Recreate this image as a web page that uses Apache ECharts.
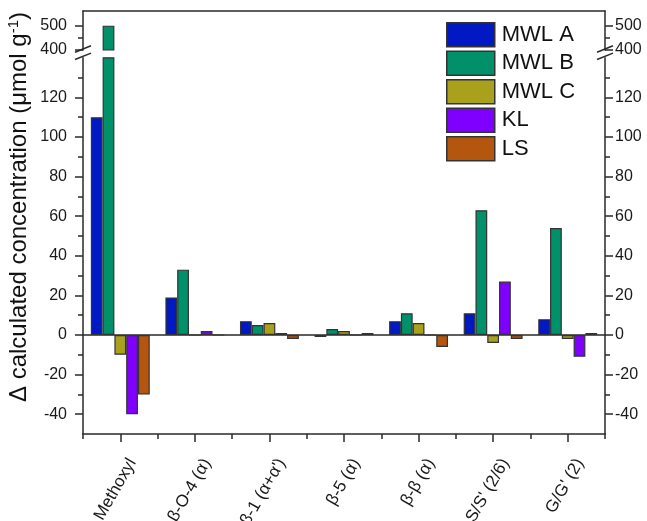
<!DOCTYPE html>
<html>
<head>
<meta charset="utf-8">
<script src="https://cdn.jsdelivr.net/npm/echarts@6/dist/echarts.min.js"></script>
<style>
html,body{margin:0;padding:0;background:#fff;}
#c{width:647px;height:521px;}
</style>
</head>
<body>
<div id="c"></div>
<script>
// ---- data ----
const categories = ['Methoxyl', 'β-O-4 (α)', "β-1 (α+α')", 'β-5 (α)', 'β-β (α)', "S/S' (2/6)", "G/G' (2)"];
const seriesNames = ['MWL A', 'MWL B', 'MWL C', 'KL', 'LS'];
const mwlA = [110, 19, 7, -1, 7, 11, 8];
const mwlB = [500, 33, 5, 3, 11, 63, 54];
const mwlC = [-10, 0, 6, 2, 6, -4, -2];
const kl   = [-40, 2, 1, 0, 0, 27, -11];
const ls   = [-30, 0, -2, 1, -6, -2, 1];
const lowerTicks = [-40, -20, 0, 20, 40, 60, 80, 100, 120];
const upperTicks = [400, 500];
const seriesValues = [mwlA, mwlB, mwlC, kl, ls];

// ---- styles / layout ----
const colors = ['#0019c3', '#00906a', '#a9a01b', '#8000ff', '#b4560d'];
const FONT = '"Liberation Sans", Arial, sans-serif';
const AX = '#2a2a2a';
const H = 521;
const LEFT = 83, RIGHT = 42;
const lowBottomPx = 434, lowTopPx = 57.8;   // lower segment: -50 .. 140
const lowMin = -50, lowMax = 140;
const k = (lowBottomPx - lowTopPx) / (lowMax - lowMin);
const pyLow = v => lowBottomPx - (v - lowMin) * k;
const upTopPx = 11, upBottomPx = 50;        // upper segment: 400 .. 560
const upMin = 400, upMax = 560;
const ku = (upBottomPx - upTopPx) / (upMax - upMin);
const pyUp = v => upBottomPx - (v - upMin) * ku;

const g = (top, bottomPx) => ({left: LEFT, right: RIGHT, top: top, bottom: H - bottomPx,
                               containLabel: false, outerBoundsMode: 'none'});
const grids = [
  g(lowTopPx, lowBottomPx),        // 0 lower plot
  g(upTopPx, upBottomPx),          // 1 upper plot
  g(pyLow(120), pyLow(-40)),       // 2 lower major ticks
  g(pyLow(130), pyLow(-40)),       // 3 lower minor ticks
  g(pyUp(500), pyUp(400))          // 4 upper ticks
];

const lbl = {fontSize: 16, fontFamily: FONT, color: '#1a1a1a'};
function yax(grid, pos, min, max, opts) {
  return Object.assign({
    type: 'value', gridIndex: grid, position: pos, min: min, max: max,
    splitLine: {show: false},
    axisLine: {show: false},
    axisTick: {show: false},
    axisLabel: {show: false}
  }, opts);
}
const tickMaj = {show: true, length: 8, lineStyle: {color: AX, width: 1.5}};
const tickMin = {show: true, length: 5, lineStyle: {color: AX, width: 1.5}};
const axLine = {show: true, onZero: false, lineStyle: {color: AX, width: 1.5}};
const lowerFmt = v => (lowerTicks.indexOf(v) >= 0 ? String(v) : '');
const upperFmt = v => (upperTicks.indexOf(v) >= 0 ? String(v) : '');

const yAxis = [
  yax(0, 'left', lowMin, lowMax, {axisLine: axLine}),                 // 0
  yax(0, 'right', lowMin, lowMax, {axisLine: axLine}),                // 1
  yax(1, 'left', upMin, upMax, {axisLine: axLine}),                   // 2
  yax(1, 'right', upMin, upMax, {axisLine: axLine}),                  // 3
  yax(2, 'left', -40, 120, {interval: 20, axisTick: tickMaj,
      axisLabel: Object.assign({show: true, margin: 16, formatter: lowerFmt}, lbl)}),   // 4
  yax(2, 'right', -40, 120, {interval: 20, axisTick: tickMaj,
      axisLabel: Object.assign({show: true, margin: 10, formatter: lowerFmt}, lbl)}),   // 5
  yax(3, 'left', -40, 130, {interval: 10, axisTick: tickMin}),         // 6
  yax(3, 'right', -40, 130, {interval: 10, axisTick: tickMin}),        // 7
  yax(4, 'left', 400, 500, {interval: 100, axisTick: tickMaj,
      axisLabel: Object.assign({show: true, margin: 16, formatter: upperFmt}, lbl)}),   // 8
  yax(4, 'right', 400, 500, {interval: 100, axisTick: tickMaj,
      axisLabel: Object.assign({show: true, margin: 10, formatter: upperFmt}, lbl)}),   // 9
  yax(4, 'left', 400, 500, {interval: 50, axisTick: tickMin}),         // 10
  yax(4, 'right', 400, 500, {interval: 50, axisTick: tickMin})         // 11
];

const xAxis = [
  {type: 'category', gridIndex: 0, data: categories, position: 'bottom', boundaryGap: true,
   axisLine: axLine, axisTick: Object.assign({}, tickMin), axisLabel: {show: false}, splitLine: {show: false}},       // 0
  {type: 'category', gridIndex: 0, data: categories, position: 'bottom', boundaryGap: true,
   axisLine: {show: false, onZero: false}, axisTick: Object.assign({alignWithLabel: true}, tickMaj),
   axisLabel: {show: true, interval: 0, rotate: 60, margin: 19, verticalAlign: 'top', lineHeight: 28,
               fontSize: 17, fontFamily: FONT, color: '#1a1a1a'}, splitLine: {show: false}},                       // 1
  {type: 'category', gridIndex: 0, data: categories, position: 'bottom',
   axisLine: {show: true, onZero: true, onZeroAxisIndex: 0, lineStyle: {color: AX, width: 1.5}},
   axisTick: {show: false}, axisLabel: {show: false}, splitLine: {show: false}},                                     // 2
  {type: 'category', gridIndex: 1, data: categories, position: 'top', boundaryGap: true,
   axisLine: axLine, axisTick: {show: false}, axisLabel: {show: false}, splitLine: {show: false}},                   // 3
  {type: 'category', gridIndex: 2, data: categories, show: false},
  {type: 'category', gridIndex: 3, data: categories, show: false},
  {type: 'category', gridIndex: 4, data: categories, show: false}
];

const series = [];
seriesNames.forEach((name, i) => {
  const common = {
    name: name, type: 'bar', clip: true,
    barGap: '0%', barCategoryGap: '21%',
    itemStyle: {color: colors[i], borderColor: '#333', borderWidth: 1.2},
    emphasis: {disabled: true},
    data: seriesValues[i]
  };
  series.push(Object.assign({xAxisIndex: 0, yAxisIndex: 0}, common));
  series.push(Object.assign({xAxisIndex: 3, yAxisIndex: 2}, common));
});

const chart = echarts.init(document.getElementById('c'), null, {renderer: 'canvas'});
chart.setOption({
  animation: false,
  backgroundColor: '#fff',
  grid: grids,
  xAxis: xAxis,
  yAxis: yAxis,
  legend: {
    data: seriesNames, orient: 'vertical', left: 446, top: 22,
    itemWidth: 48, itemHeight: 24, itemGap: 3, padding: 0,
    selectedMode: false, icon: 'rect',
    itemStyle: {borderColor: '#333', borderWidth: 1.5},
    textStyle: {fontSize: 22, fontFamily: FONT, color: '#111', lineHeight: 24, padding: [0, 0, 0, 2]}
  },
  series: series
});

// axis-break slashes and y title
const yU = chart.convertToPixel({yAxisIndex: 2}, upMin);
const yL = chart.convertToPixel({yAxisIndex: 0}, lowMax);
const xs = [LEFT, 647 - RIGHT];
const graphics = [];
xs.forEach(x => {
  [yU - 1, yL - 1.5].forEach(y => {
    graphics.push({type: 'line', shape: {x1: x - 8, y1: y + 3.2, x2: x + 8, y2: y - 3.2},
      style: {stroke: AX, lineWidth: 1.5}, z: 100});
  });
});
graphics.push({
  type: 'text', x: 19, y: 207, rotation: Math.PI / 2, z: 100,
  style: {
    text: '{a|Δ calculated concentration (μmol g}{s|-1}{a|)}',
    align: 'center', verticalAlign: 'middle',
    rich: {
      a: {fontSize: 24, fontFamily: FONT, fill: '#111'},
      s: {fontSize: 15, fontFamily: FONT, fill: '#111', padding: [0, 0, 11, 0]}
    }
  }
});
chart.setOption({graphic: graphics});
</script>
</body>
</html>
